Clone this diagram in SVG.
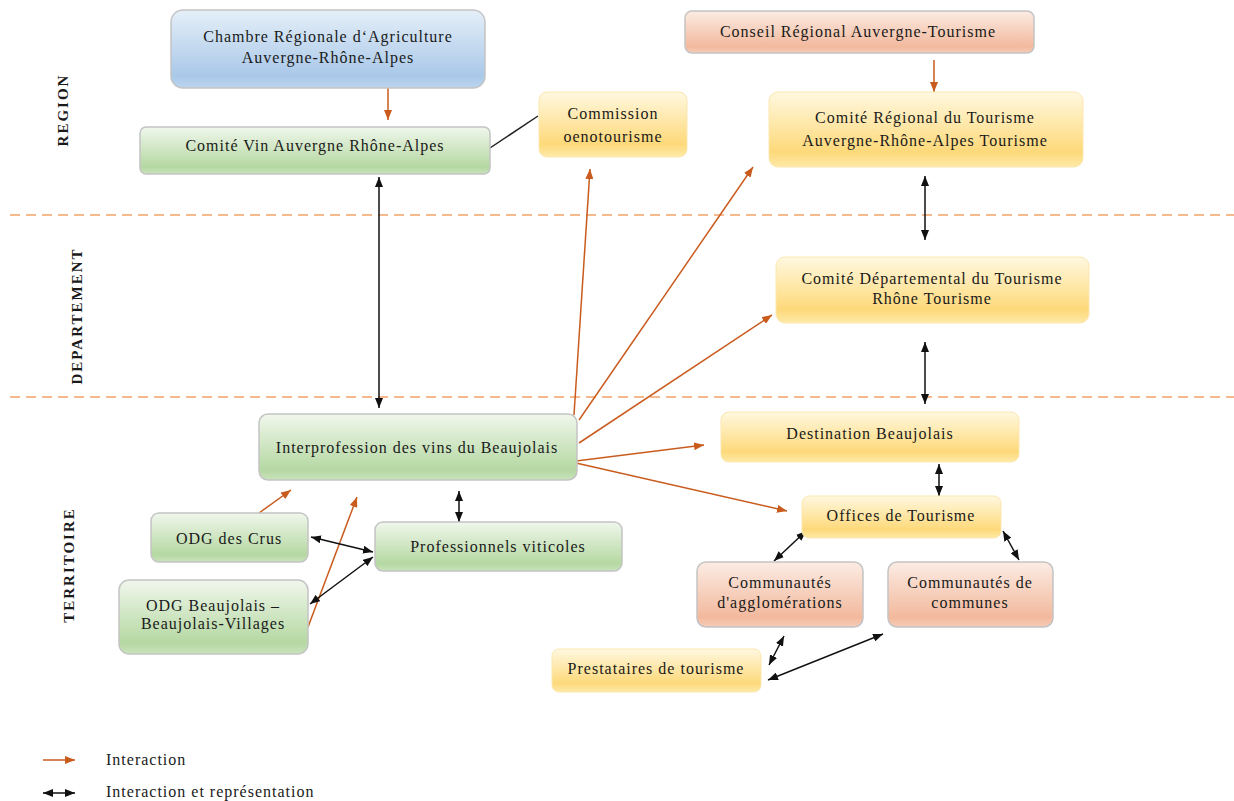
<svg xmlns="http://www.w3.org/2000/svg" width="1234" height="801" viewBox="0 0 1234 801">
<style>
text{font-family:"Liberation Serif","Times New Roman",serif;font-size:16px;fill:#1a1a1a;letter-spacing:1px;text-anchor:middle}
.side{font-weight:bold;font-size:15px;letter-spacing:2px}
.leg{text-anchor:start}
.box{stroke:#c4c4c4;stroke-width:1.5}
.blue{fill:url(#gBlue)}
.green{fill:url(#gGreen)}
.yellow{fill:url(#gYellow);stroke:#fbe7b0;stroke-width:1}
.salmon{fill:url(#gSalmon)}
.zone{stroke:#f4a26a;stroke-width:1.6;stroke-dasharray:10 6;fill:none}
.o{stroke:#c95b1d;stroke-width:1.5;fill:none;marker-end:url(#aO)}
.k{stroke:#111;stroke-width:1.5;fill:none;marker-end:url(#aK);marker-start:url(#aK)}
.ln{stroke:#222;stroke-width:1.5;fill:none}
</style>
<defs>
<linearGradient id="gBlue" x1="0" y1="0" x2="0" y2="1">
<stop offset="0" stop-color="#e5eff8"/><stop offset="0.85" stop-color="#a9c8e9"/><stop offset="1" stop-color="#bcd5ee"/>
</linearGradient>
<linearGradient id="gGreen" x1="0" y1="0" x2="0" y2="1">
<stop offset="0" stop-color="#f0f7ec"/><stop offset="0.85" stop-color="#b5d8a2"/><stop offset="1" stop-color="#c9e3bc"/>
</linearGradient>
<linearGradient id="gYellow" x1="0" y1="0" x2="0" y2="1">
<stop offset="0" stop-color="#fff8e0"/><stop offset="0.8" stop-color="#fdd97a"/><stop offset="1" stop-color="#feeaa8"/>
</linearGradient>
<linearGradient id="gSalmon" x1="0" y1="0" x2="0" y2="1">
<stop offset="0" stop-color="#fcece4"/><stop offset="0.85" stop-color="#f2b99d"/><stop offset="1" stop-color="#f6ccb7"/>
</linearGradient>
<marker id="aO" viewBox="0 0 10 8" refX="10" refY="4" markerWidth="10" markerHeight="8" markerUnits="userSpaceOnUse" orient="auto">
<path d="M0,0 L10,4 L0,8 z" fill="#c95b1d"/>
</marker>
<marker id="aK" viewBox="0 0 10 8" refX="10" refY="4" markerWidth="10" markerHeight="8" markerUnits="userSpaceOnUse" orient="auto-start-reverse">
<path d="M0,0 L10,4 L0,8 z" fill="#111"/>
</marker>
</defs>
<rect width="1234" height="801" fill="#ffffff"/>

<g id="zones">
<line class="zone" x1="10" y1="215" x2="1234" y2="215"/>
<line class="zone" x1="10" y1="397" x2="1234" y2="397"/>
<text class="side" transform="translate(68,110) rotate(-90)">REGION</text>
<text class="side" transform="translate(82,316) rotate(-90)">DEPARTEMENT</text>
<text class="side" transform="translate(74,565) rotate(-90)">TERRITOIRE</text>
</g>

<g id="connectors">
<line class="o" x1="388" y1="88" x2="388" y2="120"/>
<line class="o" x1="934" y1="60" x2="934" y2="92"/>
<line class="o" x1="574" y1="415" x2="590" y2="169"/>
<line class="o" x1="579" y1="420" x2="753" y2="167"/>
<line class="o" x1="579" y1="443" x2="772" y2="315"/>
<line class="o" x1="576" y1="461" x2="704" y2="445"/>
<line class="o" x1="576" y1="463" x2="787" y2="511"/>
<line class="o" x1="259" y1="513" x2="291" y2="490"/>
<line class="o" x1="308" y1="627" x2="357" y2="497"/>
<line class="ln" x1="490" y1="148" x2="538" y2="116"/>
<line class="k" x1="379" y1="177" x2="379" y2="408"/>
<line class="k" x1="925" y1="176" x2="925" y2="240"/>
<line class="k" x1="925" y1="342" x2="925" y2="404"/>
<line class="k" x1="939" y1="464" x2="939" y2="496"/>
<line class="k" x1="459" y1="491" x2="459" y2="522"/>
<line class="k" x1="311" y1="537" x2="373" y2="552"/>
<line class="k" x1="310" y1="604" x2="373" y2="557"/>
<line class="k" x1="806" y1="531" x2="774" y2="561"/>
<line class="k" x1="1003" y1="531" x2="1019" y2="560"/>
<line class="k" x1="784" y1="636" x2="769" y2="665"/>
<line class="k" x1="883" y1="634" x2="768" y2="680"/>
</g>

<g id="chambre">
<rect class="box blue" x="171" y="10" width="314" height="78" rx="12"/>
<text x="328" y="42">Chambre Régionale d‘Agriculture</text>
<text x="328" y="63">Auvergne-Rhône-Alpes</text>
</g>
<g id="comite-vin">
<rect class="box green" x="140" y="127" width="350" height="47" rx="6"/>
<text x="315" y="151">Comité Vin Auvergne Rhône-Alpes</text>
</g>
<g id="commission">
<rect class="yellow" x="539" y="92" width="148" height="65" rx="8"/>
<text x="613" y="119">Commission</text>
<text x="613" y="142">oenotourisme</text>
</g>
<g id="conseil">
<rect class="box salmon" x="685" y="11" width="349" height="42" rx="7"/>
<text x="858" y="37">Conseil Régional Auvergne-Tourisme</text>
</g>
<g id="crt">
<rect class="yellow" x="769" y="92" width="314" height="75" rx="9"/>
<text x="925" y="123">Comité Régional du Tourisme</text>
<text x="925" y="146">Auvergne-Rhône-Alpes Tourisme</text>
</g>
<g id="cdt">
<rect class="yellow" x="776" y="257" width="313" height="66" rx="9"/>
<text x="932" y="284">Comité Départemental du Tourisme</text>
<text x="932" y="304">Rhône Tourisme</text>
</g>
<g id="interprofession">
<rect class="box green" x="259" y="414" width="318" height="66" rx="9"/>
<text x="417" y="453">Interprofession des vins du Beaujolais</text>
</g>
<g id="destination">
<rect class="yellow" x="721" y="412" width="298" height="50" rx="8"/>
<text x="870" y="439">Destination Beaujolais</text>
</g>
<g id="offices">
<rect class="yellow" x="802" y="496" width="199" height="42" rx="7"/>
<text x="901" y="521">Offices de Tourisme</text>
</g>
<g id="odg-crus">
<rect class="box green" x="151" y="513" width="157" height="49" rx="8"/>
<text x="229" y="544">ODG des Crus</text>
</g>
<g id="professionnels">
<rect class="box green" x="375" y="522" width="247" height="49" rx="8"/>
<text x="498" y="552">Professionnels viticoles</text>
</g>
<g id="odg-beaujolais">
<rect class="box green" x="119" y="580" width="189" height="74" rx="10"/>
<text x="213" y="611">ODG Beaujolais –</text>
<text x="213" y="629">Beaujolais-Villages</text>
</g>
<g id="comm-agglo">
<rect class="box salmon" x="697" y="562" width="166" height="65" rx="9"/>
<text x="780" y="588">Communautés</text>
<text x="780" y="608">d'agglomérations</text>
</g>
<g id="comm-communes">
<rect class="box salmon" x="888" y="562" width="165" height="65" rx="9"/>
<text x="970" y="588">Communautés de</text>
<text x="970" y="608">communes</text>
</g>
<g id="prestataires">
<rect class="yellow" x="552" y="649" width="209" height="43" rx="7"/>
<text x="656" y="674">Prestataires de tourisme</text>
</g>

<g id="legend">
<line class="o" x1="43" y1="760" x2="75" y2="760"/>
<text class="leg" x="106" y="765">Interaction</text>
<line class="k" x1="43" y1="793" x2="75" y2="793"/>
<text class="leg" x="106" y="797">Interaction et représentation</text>
</g>
</svg>
